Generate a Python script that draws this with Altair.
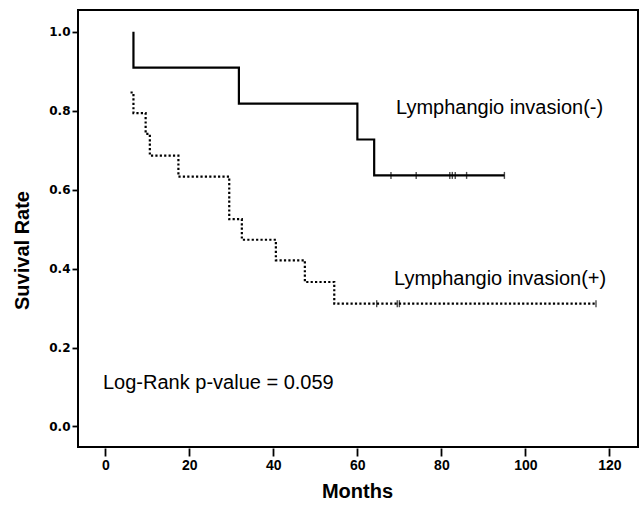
import altair as alt
import pandas as pd

# Kaplan-Meier step curves (months, survival rate)
neg_months = [6.7, 6.7, 31.8, 60.0, 64.0, 95.0]
neg_surv = [1.0, 0.909, 0.818, 0.727, 0.636, 0.636]

pos_months = [6.0, 6.7, 9.6, 10.6, 17.4, 29.5, 32.5, 40.6, 47.5, 54.5, 116.8]
pos_surv = [0.846, 0.794, 0.741, 0.686, 0.633, 0.525, 0.473, 0.421, 0.366, 0.311, 0.311]

# Censored observations
neg_censor_months = [68.0, 74.0, 82.0, 82.6, 83.3, 86.0, 95.0]
neg_censor_surv = [0.636] * len(neg_censor_months)
pos_censor_months = [64.6, 69.5, 70.0, 116.8]
pos_censor_surv = [0.311] * len(pos_censor_months)

x_ticks = [0, 20, 40, 60, 80, 100, 120]
y_ticks = [0.0, 0.2, 0.4, 0.6, 0.8, 1.0]

label_neg = "Lymphangio invasion(-)"
label_pos = "Lymphangio invasion(+)"
label_p = "Log-Rank p-value = 0.059"

neg_df = pd.DataFrame({"months": neg_months, "surv": neg_surv})
pos_df = pd.DataFrame({"months": pos_months, "surv": pos_surv})
neg_c = pd.DataFrame({"months": neg_censor_months, "surv": neg_censor_surv})
pos_c = pd.DataFrame({"months": pos_censor_months, "surv": pos_censor_surv})

x_scale = alt.Scale(domain=[-6.5, 126.8], nice=False, zero=False)
y_scale = alt.Scale(domain=[-0.052, 1.055], nice=False, zero=False)

x_axis = alt.Axis(
    values=x_ticks, format="d", grid=False, domain=False,
    tickSize=8, tickWidth=1.8, tickColor="black", offset=1,
    labelFont="Liberation Sans", labelFontWeight="bold", labelFontSize=14,
    labelColor="black", labelPadding=2,
    title="Months", titleFont="Liberation Sans", titleFontSize=20,
    titleFontWeight="bold", titleColor="black",
    titleX=279, titleY=43, titleBaseline="middle", titleAlign="center",
)
y_axis = alt.Axis(
    values=y_ticks, format=".1f", grid=False, domain=False,
    tickSize=6, tickWidth=1.8, tickColor="black",
    labelFont="DejaVu Sans", labelFontWeight="bold", labelFontSize=12,
    labelColor="black", labelPadding=2,
    title="Suvival Rate", titleFont="Liberation Sans", titleFontSize=20,
    titleFontWeight="bold", titleColor="black",
    titleX=-56, titleY=240, titleAngle=270,
    titleAlign="center", titleBaseline="middle",
)

X = alt.X("months:Q", scale=x_scale, axis=x_axis)
Y = alt.Y("surv:Q", scale=y_scale, axis=y_axis)

neg_line = alt.Chart(neg_df).mark_line(
    interpolate="step-after", color="black", strokeWidth=2.2
).encode(x=X, y=Y)

pos_line = alt.Chart(pos_df).mark_line(
    interpolate="step-after", color="black", strokeWidth=2.2,
    strokeDash=[2.2, 2.2], strokeCap="butt"
).encode(x=X, y=Y)

neg_ticks = alt.Chart(neg_c).mark_tick(
    orient="vertical", size=7, thickness=1.4, color="black"
).encode(x=X, y=Y)
pos_ticks = alt.Chart(pos_c).mark_tick(
    orient="vertical", size=7, thickness=1.4, color="black"
).encode(x=X, y=Y)


def note(text, px, py):
    return alt.Chart(pd.DataFrame({"t": [text]})).mark_text(
        align="left", baseline="alphabetic", font="Liberation Sans",
        fontSize=20, color="black"
    ).encode(text="t:N", x=alt.value(px), y=alt.value(py))


chart = alt.layer(
    neg_line, pos_line, neg_ticks, pos_ticks,
    note(label_neg, 318, 103.5),
    note(label_pos, 316, 274.5),
    note(label_p, 25, 379),
).properties(
    width=560, height=437,
    autosize=alt.AutoSizeParams(type="none"),
    padding={"left": 78, "top": 10, "right": 6, "bottom": 58},
    background="white",
).configure_view(stroke="black", strokeWidth=2)

chart.save("out.html", embed_options={"renderer": "svg", "actions": False})
